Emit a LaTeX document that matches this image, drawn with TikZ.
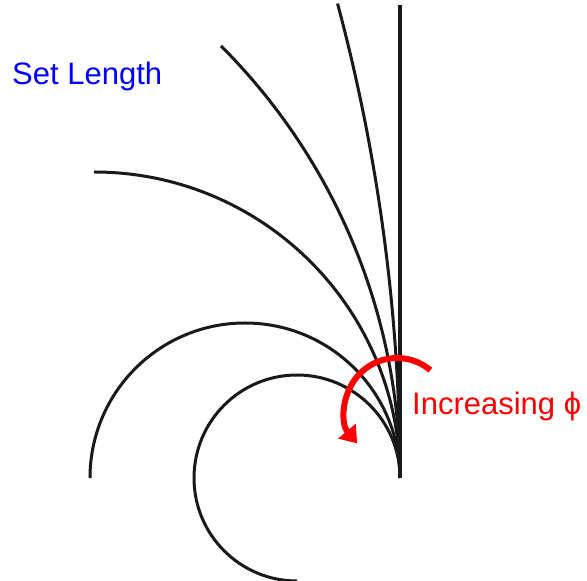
\documentclass[tikz,border=0pt]{standalone}
\usepackage{fontspec}
\setmainfont{Liberation Sans}
\usetikzlibrary{arrows.meta}

\tikzset{
    rod/.style={line width=3pt, color=black!90},
    label/.style={anchor=base west, inner sep=0pt, font=\fontsize{31}{37}\selectfont}
}

\begin{document}
\begin{tikzpicture}[x=1pt, y=1pt]
    \useasboundingbox (0, 0) rectangle (587, 581);

    % Common starting point of all curves
    \coordinate (base) at (400, 103);
    \coordinate (top) at (400, 576);

    % Straight rod (phi = 0)
    \draw[rod, line width=4pt] (base) -- (top);

    % Curves of equal length, bent by increasing phi
    \draw[rod] (base) arc[start angle=0, end angle=15, radius=1833];
    \draw[rod] (base) arc[start angle=0, end angle=45, radius=611];
    \draw[rod] (base) arc[start angle=0, end angle=90, radius=306];
    \draw[rod] (base) arc[start angle=0, end angle=180, radius=155];
    \draw[rod] (base) arc[start angle=0, end angle=270, radius=103];

    % Arrow for increasing phi
    \coordinate (turn) at (397, 171);
    \draw[red, line width=6pt, -{Triangle[width=22pt, length=16pt]}]
        ([shift={(50:52)}]turn) arc[start angle=50, end angle=220, radius=52];

    % Labels
    \node[label, red] (incr) at (412, 166) {Increasing ϕ};
    \node[label, blue] (setlen) at (12, 496) {Set Length};

\end{tikzpicture}
\end{document}
